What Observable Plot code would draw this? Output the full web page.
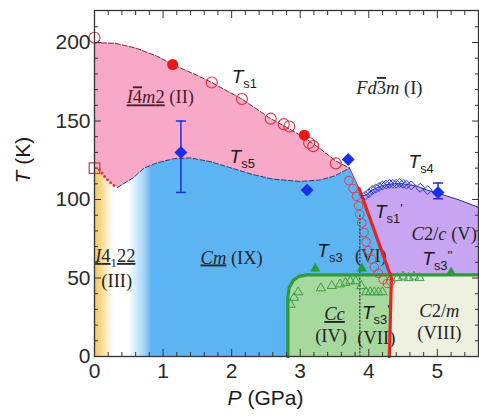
<!DOCTYPE html>
<html><head><meta charset="utf-8">
<script src="https://cdn.jsdelivr.net/npm/d3@7"></script>
<script src="https://cdn.jsdelivr.net/npm/@observablehq/plot@0.6"></script>
<style>body{margin:0;background:#fff}</style>
</head><body><div id="chart"></div>
<script>
// ---------- data (P in GPa, T in K) ----------
const ts1Curve = [[0,200],[0.3,199.5],[0.6,196.5],[0.9,191.5],[1.14,186],[1.5,179],[1.71,174.5],[2.15,164],[2.57,151.5],[2.8,146],[3.06,139.5],[3.3,132],[3.52,124.5],[3.72,120]];
const ts1Tail = [[3.72,120],[3.86,107]];
const ts1Prime = [[3.86,107],[4.33,50],[4.3,0]];
const ts5Dotted = [[0.07,119],[0.16,114],[0.25,110],[0.33,107.5]];
const ts5Curve = [[0.33,107.5],[0.42,110],[0.57,114],[0.72,120],[0.92,123.5],[1.16,126],[1.4,126.5],[1.7,124],[2.0,120],[2.3,116],[2.6,113],[3.0,111.5],[3.3,112.5],[3.5,115],[3.72,120]];
const ts4Curve = [[3.86,103],[3.95,102.5],[4.05,106],[4.2,109],[4.35,110],[4.5,110],[4.7,108.5],[4.85,106],[5.01,104],[5.3,100],[5.6,95]];
const ts3Line = [[2.82,0],[2.82,38],[2.84,44],[2.9,48.5],[2.98,51],[3.1,52],[5.6,52]];
const dottedBoundary = [[3.87,0],[3.87,91]];

const ts1Open = [[0,203],[1.71,174.5],[2.15,164],[2.57,151.5],[2.76,148],[2.84,146.5],[3.13,136],[3.19,134],[3.52,123]];
const ts1Filled = [[1.14,186],[3.06,141]];
const ts1PrimeOpen = [[3.71,112],[3.77,107],[3.82,102],[3.85,96],[3.87,90.5],[3.9,85],[3.93,79],[3.96,73],[3.99,67.5],[4.04,62],[4.08,57],[4.14,53],[4.21,49],[4.27,46.5],[4.32,48]];
const ts5Square = [[0,120]];
const blueFilled = [[1.26,130],[3.1,106],[3.7,125.5],[5.01,104.5]];
const errorBars = [{P:1.26,lo:104.5,hi:150},{P:5.01,lo:100.5,hi:110.5}];
const ts4Open = [[3.95,102.5],[4.0,104],[4.05,106],[4.1,107],[4.15,108],[4.2,109],[4.25,109.5],[4.3,110],[4.35,110],[4.4,110],[4.45,110.5],[4.5,110],[4.55,109.5],[4.62,109],[4.75,107.5],[4.86,106]];
const ts3Filled = [[3.22,56],[3.9,56],[5.2,53.5]];
const ts3Open = [[2.86,33],[2.91,37.5],[2.97,41],[3.3,43.5],[3.46,45],[3.58,46],[3.66,47],[3.73,48],[3.81,48],[3.89,45],[3.96,41],[4.02,41],[4.08,41],[4.14,41],[4.2,41],[4.42,50],[4.5,51],[4.58,50],[4.66,51],[4.74,50]];

const xMajorTicks = [0,1,2,3,4,5];
const xMinorTicks = [0.2,0.4,0.6,0.8,1.2,1.4,1.6,1.8,2.2,2.4,2.6,2.8,3.2,3.4,3.6,3.8,4.2,4.4,4.6,4.8,5.2,5.4];
const yMajorTicks = [0,50,100,150,200];
const yMinorTicks = [10,20,30,40,60,70,80,90,110,120,130,140,160,170,180,190,210];

// labels
const phaseMid = [
  {P:4.3, T:171, segs:[["Fd","i"],["3","o"],["m","i"],[" (I)",""]]},
  {P:0.96, T:165, color:"#4a1d2e", segs:[["I","i u"],["4","u o"],["m","i u"],["2","u"],[" (II)",""]]},
  {P:2.0, T:63, segs:[["Cm","i u"],[" (IX)",""]]},
  {P:3.5, T:27, segs:[["Cc","i u"]]},
  {P:3.45, T:13, segs:[["(IV)",""]]},
  {P:4.03, T:64, segs:[["(VI)",""]]},
  {P:4.11, T:12, segs:[["(VII)",""]]},
  {P:5.1, T:78, segs:[["C","i"],["2/",""],["c","i"],[" (V)",""]]},
  {P:5.03, T:29, segs:[["C","i"],["2/",""],["m","i"]]},
  {P:5.03, T:15, segs:[["(VIII)",""]]}
];
const phaseStart = [
  {P:0.01, T:64, segs:[["I","i u"],["4","u"],["1","sub"],["22","u"]]},
  {P:0.1, T:48, segs:[["(III)",""]]}
];
const tsLabels = [
  {P:2.0, T:178, segs:[["T","i"],["s1","sub"]]},
  {P:1.97, T:127, segs:[["T","i"],["s5","sub"]]},
  {P:4.58, T:124, segs:[["T","i"],["s4","sub"]]},
  {P:4.09, T:92, segs:[["T","i"],["s1","sub"],["'","sup"]]},
  {P:3.25, T:67.5, segs:[["T","i"],["s3","sub"]]},
  {P:4.78, T:62, segs:[["T","i"],["s3","sub"],["''","sup"]]},
  {P:3.9, T:28, segs:[["T","i"],["s3","sub"],["'","sup"]]}
];
const axisTitles = [
  {segs:[["T","i"],[" (K)",""]]},
  {segs:[["P","i"],[" (GPa)",""]]}
];

// ---------- region polygons built from the boundary curves ----------
const rev = a => a.slice().reverse();
const pinkPoly = [...ts1Curve, ...rev(ts5Curve), ...rev(ts5Dotted), [0,120]];
const bluePoly = [...ts5Curve, ts1Tail[1], ts1Prime[1], ts1Prime[2], [ts5Curve[0][0],0]];
const purplePoly = [...ts4Curve, [5.6,52], [4.33,52], ts1Prime[0]];
const greenPoly = [...ts3Line.slice(0,6), [4.33,52], [4.3,0]];
const beigePoly = [[4.3,0],[4.33,52],[5.6,52],[5.6,0]];
const yellowRect = [{x1:0, x2:0.33, y1:0, y2:121}];

const defsMark = () => {
  const defs = d3.create("svg:defs");
  const gb = defs.append("linearGradient").attr("id","gBlue").attr("x1",0).attr("x2",1).attr("y1",0).attr("y2",0);
  [[0,"#ffffff"],[0.04,"#ffffff"],[0.1,"#9fd3f7"],[0.125,"#5cb4f2"],[1,"#5cb4f2"]].forEach(([o,c]) => gb.append("stop").attr("offset",o).attr("stop-color",c));
  const gy = defs.append("linearGradient").attr("id","gYellow").attr("x1",0).attr("x2",1).attr("y1",0).attr("y2",0);
  [[0,"#f2c65c"],[0.3,"#f7d789"],[0.6,"#fdefcc"],[0.85,"#ffffff"]].forEach(([o,c]) => gy.append("stop").attr("offset",o).attr("stop-color",c));
  return defs.node();
};

const hbar = {draw(ctx, size){ const w = Math.sqrt(size/Math.PI); ctx.moveTo(-w,0); ctx.lineTo(w,0); }};
const px = d => d[0], ty = d => d[1];
const serif = "Liberation Serif, Times New Roman, serif";
const sans = "Liberation Sans, Arial, sans-serif";
const axisCol = "#333";
const plain = d => d.segs.map(s => s[0]).join("");

const chart = Plot.plot({
  width: 479, height: 417,
  marginLeft: 94, marginRight: 1, marginTop: 10, marginBottom: 61,
  x: {domain: [0, 5.6], label: null},
  y: {domain: [0, 220.4], label: null},
  style: {fontFamily: sans, background: "white", overflow: "visible"},
  marks: [
    defsMark,
    Plot.rect(yellowRect, {x1:"x1", x2:"x2", y1:"y1", y2:"y2", fill:"url(#gYellow)"}),
    Plot.line(bluePoly, {x:px, y:ty, fill:"url(#gBlue)", stroke:"none"}),
    Plot.line(pinkPoly, {x:px, y:ty, fill:"#f9a9c8", stroke:"none"}),
    Plot.line(purplePoly, {x:px, y:ty, fill:"#c8a5f2", stroke:"none"}),
    Plot.line(greenPoly, {x:px, y:ty, fill:"#a7d89d", stroke:"none"}),
    Plot.line(beigePoly, {x:px, y:ty, fill:"#eef1e0", stroke:"none"}),

    Plot.line(ts1Curve, {x:px, y:ty, stroke:"#7a2a3a", strokeWidth:1, strokeDasharray:"5,2"}),
    Plot.line(ts1Tail, {x:px, y:ty, stroke:"#c03040", strokeWidth:1}),
    Plot.line(ts5Dotted, {x:px, y:ty, stroke:"#d8304a", strokeWidth:2.8, strokeDasharray:"0.1,4.2", strokeLinecap:"round"}),
    Plot.line(ts5Curve, {x:px, y:ty, stroke:"#2a3a6a", strokeWidth:1, strokeDasharray:"5,2"}),
    Plot.line(ts4Curve, {x:px, y:ty, stroke:"#2a2a8a", strokeWidth:1}),
    Plot.line(dottedBoundary, {x:px, y:ty, stroke:"#222", strokeWidth:1, strokeDasharray:"1.5,2"}),

    Plot.text(phaseMid, {x:"P", y:"T", text: plain, fontFamily: serif, fontSize: 18.5, fill: d => d.color || "#252525"}),
    Plot.text(phaseStart, {x:"P", y:"T", text: plain, fontFamily: serif, fontSize: 18.5, fill:"#252525", textAnchor:"start"}),
    Plot.text(tsLabels, {x:"P", y:"T", text: plain, fontFamily: sans, fontSize: 19, fill:"#1a1a1a", textAnchor:"start"}),

    Plot.line(ts3Line, {x:px, y:ty, stroke:"#2e9a38", strokeWidth:3.2}),
    Plot.line(ts1Prime, {x:px, y:ty, stroke:"#e8231d", strokeWidth:3.2}),

    Plot.dot(ts1PrimeOpen, {x:px, y:ty, r:4.3, stroke:"#d84050", strokeWidth:1, fill:"none"}),
    Plot.dot(ts1Open, {x:px, y:ty, r:5.5, stroke:"#e0303a", strokeWidth:1.1, fill:"none"}),
    Plot.dot(ts1Filled, {x:px, y:ty, r:5.5, fill:"#ee1515"}),
    Plot.dot(ts5Square, {x:px, y:ty, symbol:"square", r:6, stroke:"#c04050", strokeWidth:1.2, fill:"none"}),
    Plot.ruleX(errorBars, {x:"P", y1:"lo", y2:"hi", stroke:"#1a30d0", strokeWidth:1.5}),
    Plot.dot(errorBars, {x:"P", y:"lo", symbol:hbar, r:5, stroke:"#1a30d0", strokeWidth:1.5}),
    Plot.dot(errorBars, {x:"P", y:"hi", symbol:hbar, r:5, stroke:"#1a30d0", strokeWidth:1.5}),
    Plot.dot(ts4Open, {x:px, y:ty, symbol:"diamond2", r:4, stroke:"#2038d8", strokeWidth:1, fill:"none"}),
    Plot.dot(blueFilled, {x:px, y:ty, symbol:"diamond2", r:5.8, fill:"#1830e8", stroke:"none"}),
    Plot.dot(ts3Open, {x:px, y:ty, symbol:"triangle", r:3.4, stroke:"#38a046", strokeWidth:1, fill:"none"}),
    Plot.dot(ts3Filled, {x:px, y:ty, symbol:"triangle", r:3.8, fill:"#2a9a38", stroke:"none"}),

    Plot.axisX(xMajorTicks, {anchor:"bottom", tickSize:-7, tickPadding:14, fontSize:21, stroke:axisCol, fill:"#2a2a2a"}),
    Plot.axisX(xMinorTicks, {anchor:"bottom", tickSize:-4, stroke:axisCol, fill:"none"}),
    Plot.axisX(xMajorTicks, {anchor:"top", tickSize:-7, stroke:axisCol, fill:"none"}),
    Plot.axisX(xMinorTicks, {anchor:"top", tickSize:-4, stroke:axisCol, fill:"none"}),
    Plot.axisY(yMajorTicks, {anchor:"left", tickSize:-7, tickPadding:11, fontSize:21, stroke:axisCol, fill:"#2a2a2a"}),
    Plot.axisY(yMinorTicks, {anchor:"left", tickSize:-4, stroke:axisCol, fill:"none"}),
    Plot.axisY(yMajorTicks, {anchor:"right", tickSize:-7, stroke:axisCol, fill:"none"}),
    Plot.axisY(yMinorTicks, {anchor:"right", tickSize:-4, stroke:axisCol, fill:"none"}),
    Plot.frame({stroke:axisCol, strokeWidth:1.3}),

    Plot.text([axisTitles[0]], {frameAnchor:"left", dx:-71, rotate:-90, text: plain, fontSize:21, fill:"#1a1a1a"}),
    Plot.text([axisTitles[1]], {frameAnchor:"bottom", dx:-21, dy:48, text: plain, fontSize:21, fill:"#1a1a1a"})
  ]
});

function fillRich(el, segs) {
  const t = d3.select(el);
  t.text(null);
  let shift = 0;
  for (const [s, st] of segs) {
    const flags = st.split(" ");
    const sp = t.append("tspan").text(s);
    if (flags.includes("i")) sp.attr("font-style", "italic");
    const deco = [];
    if (flags.includes("u")) deco.push("underline");
    if (flags.includes("o")) deco.push("overline");
    if (deco.length) sp.attr("text-decoration", deco.join(" "));
    const isSub = flags.includes("sub"), isSup = flags.includes("sup");
    const target = isSub ? 5 : isSup ? -5 : 0;
    if (target !== shift) { sp.attr("dy", target - shift); shift = target; }
    if (isSub || isSup) sp.attr("font-size", "0.68em");
  }
}
// the five plain text marks, in mark order
const richSets = [phaseMid, phaseStart, tsLabels, [axisTitles[0]], [axisTitles[1]]];
const textGroups = chart.querySelectorAll('g[aria-label="text"]');
textGroups.forEach((g, gi) => {
  const arr = richSets[gi];
  if (!arr) return;
  g.querySelectorAll("text").forEach((el, i) => { if (arr[i]) fillRich(el, arr[i].segs); });
});
document.getElementById("chart").appendChild(chart);
</script>
</body></html>
